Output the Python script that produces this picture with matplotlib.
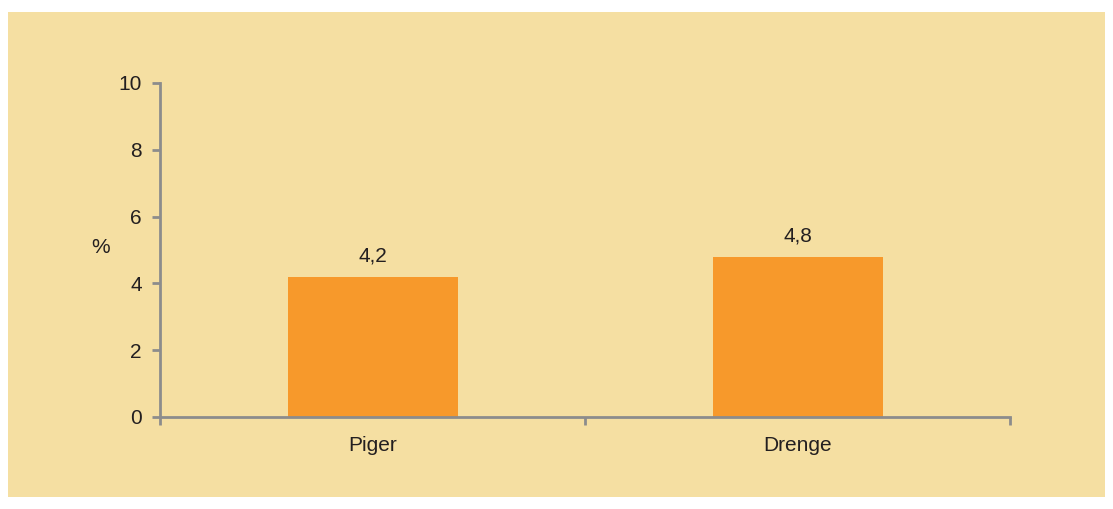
import matplotlib.pyplot as plt
from matplotlib.patches import Rectangle

# Andel i procent, piger og drenge
categories = ['Piger', 'Drenge']
values = [4.2, 4.8]
value_labels = ['4,2', '4,8']
yticks = [0, 2, 4, 6, 8, 10]

plt.rcParams['font.family'] = ['Liberation Sans', 'DejaVu Sans']
text_color = '#231f20'
axis_color = '#8c8c8c'
panel_color = '#f5dfa2'
bar_color = '#f7992b'

fig = plt.figure(figsize=(11.13, 5.09), dpi=100)
fig.patch.set_facecolor('white')

# beige panel behind the chart
fig.patches.append(Rectangle((8 / 1113, 1 - 497 / 509), 1097 / 1113, 485 / 509,
                             transform=fig.transFigure, facecolor=panel_color,
                             edgecolor='none', zorder=-1))

ax = fig.add_axes([160 / 1113, 1 - 417 / 509, 850 / 1113, 334 / 509])
ax.set_zorder(1)
ax.set_facecolor('none')

x = list(range(len(categories)))
ax.bar(x, values, width=0.4, color=bar_color, zorder=2)
for xi, v, lab in zip(x, values, value_labels):
    ax.annotate(lab, (xi, v), xytext=(0, 8), textcoords='offset points',
                ha='center', va='bottom', fontsize=15, color=text_color)

ax.set_xlim(-0.5, 1.5)
ax.set_ylim(0, 10)
ax.set_yticks(yticks)
ax.set_yticklabels([str(t) for t in yticks])

# category names centred under the bars, ticks on the category edges
ax.set_xticks([-0.5, 0.5, 1.5])
ax.set_xticklabels([])
ax.set_xticks(x, minor=True)
ax.set_xticklabels(categories, minor=True)
ax.tick_params(axis='x', which='minor', length=0, pad=14, labelsize=15,
               labelcolor=text_color)
ax.tick_params(axis='x', which='major', length=6, width=2, color=axis_color)
ax.tick_params(axis='y', length=6, width=2, color=axis_color, pad=7,
               labelsize=15, labelcolor=text_color)

for side in ['top', 'right']:
    ax.spines[side].set_visible(False)
for side in ['left', 'bottom']:
    ax.spines[side].set_color(axis_color)
    ax.spines[side].set_linewidth(2)

ax.set_ylabel('%', rotation=0, fontsize=15, color=text_color,
              va='center', ha='center')
ax.yaxis.set_label_coords(-0.07, 0.506)

fig.savefig('out.png', dpi=100)
